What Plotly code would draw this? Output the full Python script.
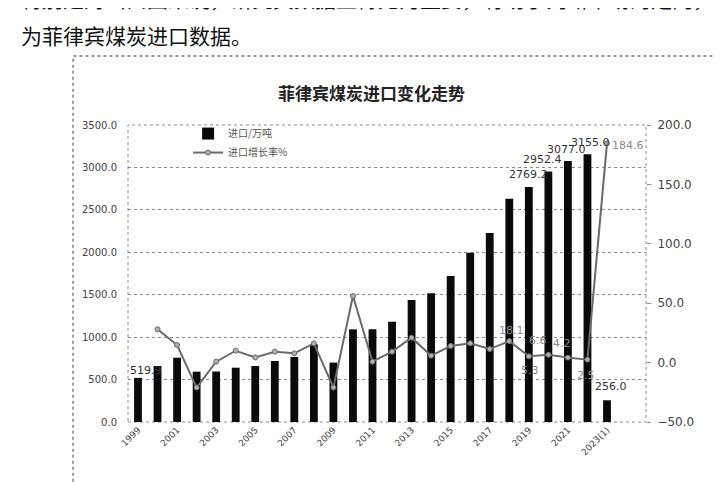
import plotly.graph_objects as go

# categories (years), 2023(1) = first part of 2023
years = ['1999', '2000', '2001', '2002', '2003', '2004', '2005', '2006', '2007',
         '2008', '2009', '2010', '2011', '2012', '2013', '2014', '2015', '2016',
         '2017', '2018', '2019', '2020', '2021', '2022', '2023(1)']

# imports, 10k tonnes
imports = [519.9, 660, 758, 593, 595, 640, 660, 719, 766,
           915, 700, 1092, 1092, 1182, 1437, 1516, 1720, 1995,
           2227, 2630, 2769.2, 2952.4, 3077.0, 3155.0, 256.0]

# growth rate %, starts in 2000
growth_years = years[1:]
growth = [28, 14.8, -21, 0.8, 10, 4.4, 9.2, 7.8,
          16.2, -21, 56, 0.8, 9.2, 21, 5.8, 14, 16.2,
          11.4, 18.1, 5.3, 6.6, 4.2, 2.5, 184.6]

# which points carry a printed value
bar_labels = {'1999': 519.9, '2019': 2769.2, '2020': 2952.4, '2021': 3077.0,
              '2022': 3155.0, '2023(1)': 256.0}
line_labels = {'2018': 18.1, '2019': 5.3, '2020': 6.6, '2021': 4.2,
               '2022': 2.5, '2023(1)': 184.6}

fig = go.Figure()

fig.add_trace(go.Bar(
    x=years, y=imports, name='进口/万吨',
    marker=dict(color='#0a0a0a', line=dict(width=0)),
))

fig.add_trace(go.Scatter(
    x=growth_years, y=growth, name='进口增长率%', yaxis='y2',
    mode='lines+markers',
    line=dict(color='#6a6a6a', width=2),
    marker=dict(symbol='circle', size=5, color='#b0b0b0',
                line=dict(color='#6a6a6a', width=1)),
))

# bar value labels, shifted the way the original sits them
# (category axis: annotations use the category index)
bar_shift = {'1999': (8, 7), '2019': (0, 13), '2020': (-6, 12), '2021': (-1, 11),
             '2022': (3, 12), '2023(1)': (4, 14)}
annotations = []
for yr, v in bar_labels.items():
    dx, dy = bar_shift[yr]
    annotations.append(dict(
        x=years.index(yr), y=v, xref='x', yref='y', text='%.1f' % v, showarrow=False,
        xshift=dx, yshift=dy, font=dict(size=11, color='#333', family='DejaVu Sans')))

line_shift = {'2018': (2, 11), '2019': (1, -14), '2020': (-10, 14), '2021': (-6, 14),
              '2022': (-1, -16), '2023(1)': (21, -2)}
for yr, v in line_labels.items():
    dx, dy = line_shift[yr]
    annotations.append(dict(
        x=years.index(yr), y=v, xref='x', yref='y2', text='%.1f' % v, showarrow=False,
        xshift=dx, yshift=dy, font=dict(size=11, color='#8a8a8a', family='DejaVu Sans')))

# page text above the chart (scanned document)
annotations.append(dict(
    xref='paper', yref='paper', x=-0.21, y=1.303, xanchor='left', yanchor='middle',
    text='为菲律宾煤炭进口数据。', showarrow=False,
    font=dict(size=21, color='#111', family='Noto Sans CJK SC')))
annotations.append(dict(
    xref='paper', yref='paper', x=-0.21, y=1.428, xanchor='left', yanchor='middle',
    text='特别是对出口国来说，研究其数据显得尤为重要，有助于判断市场的走向，下图',
    showarrow=False, font=dict(size=21, color='#111', family='Noto Sans CJK SC')))
# chart title
annotations.append(dict(
    xref='paper', yref='paper', x=0.471, y=1.111, xanchor='center', yanchor='middle',
    text='<b>菲律宾煤炭进口变化走势</b>', showarrow=False,
    font=dict(size=17, color='#222', family='Noto Sans CJK SC')))

shapes = [
    # outer chart frame (runs off the right and bottom edge)
    dict(type='rect', xref='paper', yref='paper', x0=-0.106, x1=1.3, y0=-0.4, y1=1.232,
         line=dict(color='#9a9a9a', width=2, dash='dot'), layer='below'),
    # plot area border
    dict(type='rect', xref='paper', yref='paper', x0=0, x1=1, y0=0, y1=1,
         line=dict(color='#8a8a8a', width=1, dash='dot'), layer='below'),
]

# page shows the figure offset by the 8px body margin, so margins are trimmed
fig.update_layout(
    width=723, height=482,
    margin=dict(l=120, r=85, t=117, b=68),
    paper_bgcolor='white', plot_bgcolor='white',
    font=dict(family='DejaVu Sans', color='#444'),
    bargap=0.6,
    showlegend=True,
    legend=dict(x=0.116, y=1.02, xanchor='left', yanchor='top',
                bgcolor='rgba(0,0,0,0)', font=dict(size=10, color='#555',
                family='Noto Sans CJK SC'), tracegroupgap=0, itemwidth=30),
    xaxis=dict(type='category', tickmode='array',
               tickvals=years[::2], ticktext=years[::2],
               tickangle=-45, tickfont=dict(size=9, color='#444'),
               showgrid=False, showline=False, ticks='', zeroline=False),
    yaxis=dict(range=[0, 3500], dtick=500, tickformat='.1f',
               showgrid=True, gridcolor='#8a8a8a', griddash='dot', gridwidth=1,
               showline=False, zeroline=False, ticks='', ticklabelstandoff=10,
               tickfont=dict(size=10, color='#444')),
    yaxis2=dict(overlaying='y', side='right', range=[-50, 200], dtick=50,
                tickformat='.1f', showgrid=False, zeroline=False, showline=False,
                ticks='outside', ticklen=4, tickcolor='#888', ticklabelstandoff=4,
                tickfont=dict(size=12, color='#444')),
    annotations=annotations,
    shapes=shapes,
)

fig.write_html("out.html")
